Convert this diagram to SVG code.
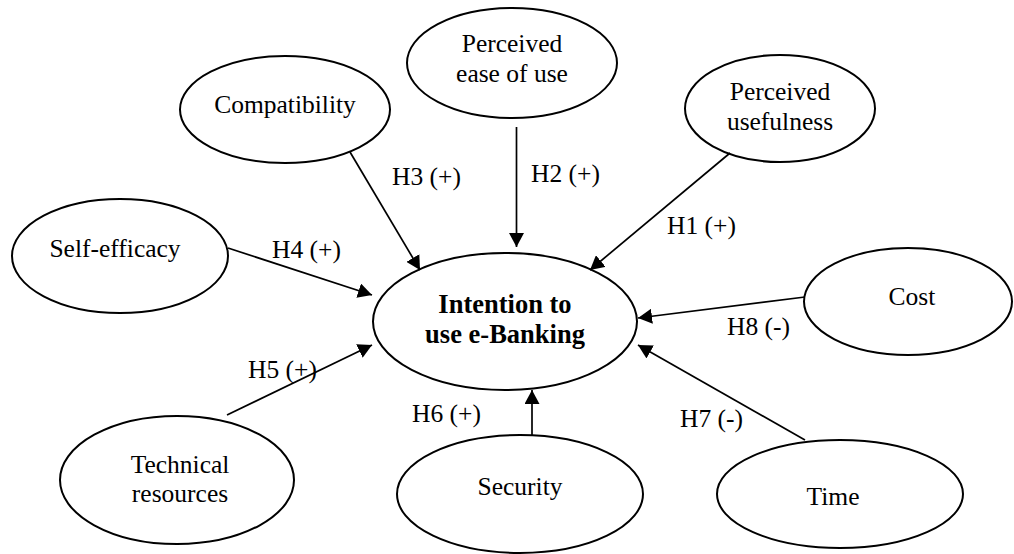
<svg xmlns="http://www.w3.org/2000/svg" width="1014" height="554" viewBox="0 0 1014 554">
  <style>
    .node ellipse { fill: #ffffff; stroke: #000000; stroke-width: 2; }
    .node text { font-family: "Liberation Serif", "Times New Roman", serif; font-size: 25.5px; fill: #000000; text-anchor: middle; }
    .node text.bold { font-weight: bold; font-size: 26.5px; }
    .edge line { stroke: #000000; stroke-width: 1.7; marker-end: url(#arrow); }
    .label { font-family: "Liberation Serif", "Times New Roman", serif; font-size: 25.5px; fill: #000000; }
  </style>
  <defs>
    <marker id="arrow" markerUnits="userSpaceOnUse" markerWidth="15" markerHeight="15" refX="14" refY="7.5" orient="auto">
      <path d="M0,0 L14,7.5 L0,15 z" fill="#000000"/>
    </marker>
  </defs>
  <rect width="1014" height="554" fill="#ffffff"/>

  <!-- constructs -->
  <g id="compatibility" class="node">
    <ellipse cx="285" cy="109.5" rx="105" ry="53.5"/>
    <text x="285" y="113">Compatibility</text>
  </g>
  <g id="ease-of-use" class="node">
    <ellipse cx="512" cy="63" rx="105" ry="55"/>
    <text x="512" y="52">Perceived</text>
    <text x="512" y="82">ease of use</text>
  </g>
  <g id="usefulness" class="node">
    <ellipse cx="780" cy="108.5" rx="95" ry="53.5"/>
    <text x="780" y="100">Perceived</text>
    <text x="780" y="130">usefulness</text>
  </g>
  <g id="self-efficacy" class="node">
    <ellipse cx="120" cy="256" rx="108" ry="57"/>
    <text x="115" y="257">Self-efficacy</text>
  </g>
  <g id="intention" class="node">
    <ellipse cx="505" cy="321.5" rx="132" ry="68.5"/>
    <text class="bold" x="505" y="313">Intention to</text>
    <text class="bold" x="505" y="343">use e-Banking</text>
  </g>
  <g id="cost" class="node">
    <ellipse cx="908" cy="301.5" rx="104" ry="53.5"/>
    <text x="912" y="305">Cost</text>
  </g>
  <g id="technical-resources" class="node">
    <ellipse cx="177" cy="480" rx="117" ry="64"/>
    <text x="180" y="473">Technical</text>
    <text x="180" y="502">resources</text>
  </g>
  <g id="security" class="node">
    <ellipse cx="520" cy="494" rx="123" ry="59"/>
    <text x="520" y="495">Security</text>
  </g>
  <g id="time" class="node">
    <ellipse cx="840" cy="494" rx="123" ry="54"/>
    <text x="833" y="505">Time</text>
  </g>

  <!-- hypothesis paths -->
  <g id="connectors" class="edge">
    <line x1="350" y1="152" x2="420" y2="270"/>
    <line x1="516.5" y1="127" x2="516.5" y2="247"/>
    <line x1="730" y1="153" x2="590" y2="270"/>
    <line x1="228" y1="248" x2="372" y2="295"/>
    <line x1="227" y1="415" x2="372" y2="345"/>
    <line x1="805" y1="297" x2="638" y2="318"/>
    <line x1="805" y1="440" x2="638" y2="345"/>
    <line x1="532" y1="435" x2="532" y2="390"/>
  </g>

  <g id="labels">
    <text class="label" x="392" y="185">H3 (+)</text>
    <text class="label" x="531" y="182">H2 (+)</text>
    <text class="label" x="667" y="234">H1 (+)</text>
    <text class="label" x="272" y="258">H4 (+)</text>
    <text class="label" x="727" y="335">H8 (-)</text>
    <text class="label" x="248" y="378">H5 (+)</text>
    <text class="label" x="412" y="422">H6 (+)</text>
    <text class="label" x="680" y="427">H7 (-)</text>
  </g>
</svg>
